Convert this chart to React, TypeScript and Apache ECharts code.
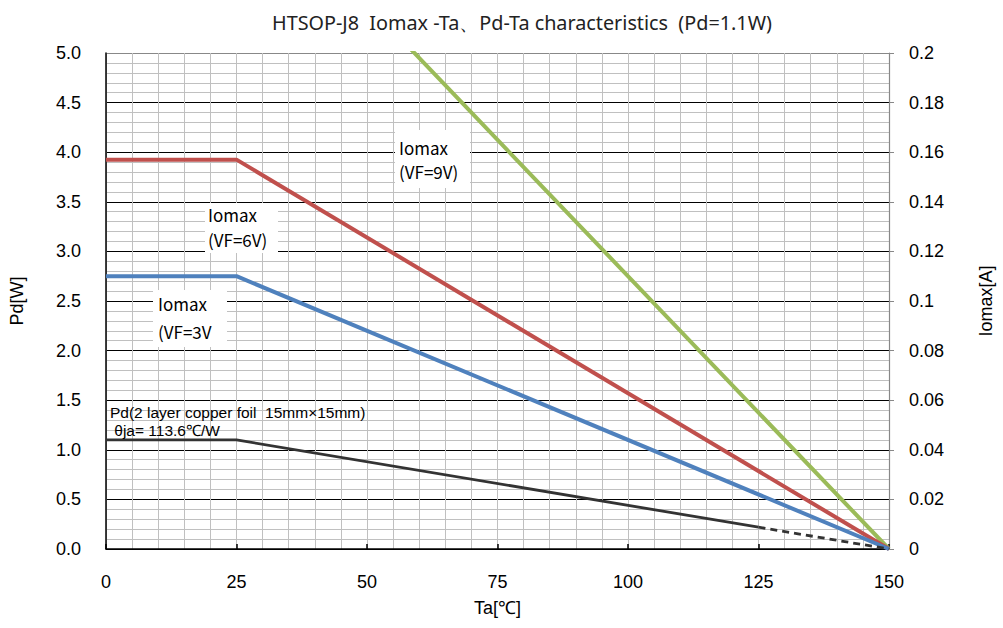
import React, { useEffect, useRef } from "react";
import * as echarts from "echarts";

const titleText = "HTSOP-J8  Iomax -Ta、Pd-Ta characteristics  (Pd=1.1W)";
const xTicks = [0, 25, 50, 75, 100, 125, 150];
const pdSolid: [number, number][] = [
  [0, 1.1],
  [25, 1.1],
  [125, 0.22],
];
const pdDashed: [number, number][] = [
  [125, 0.22],
  [150, 0],
];
const io3V: [number, number][] = [
  [0, 0.11],
  [25, 0.11],
  [150, 0],
];
const io6V: [number, number][] = [
  [0, 0.157],
  [25, 0.157],
  [150, 0],
];
const io9V: [number, number][] = [
  [0, 0.275],
  [25, 0.275],
  [150, 0],
];
const labels = {
  v9: ["Iomax", "(VF=9V)"],
  v6: ["Iomax", "(VF=6V)"],
  v3: ["Iomax", "(VF=3V"],
  pd: ["Pd(2 layer copper foil  15mm×15mm)", " θja= 113.6℃/W"],
};

const axisFont = "Liberation Sans";
const cjkFont = "Noto Sans CJK JP";

function box(
  x: number,
  y: number,
  w: number,
  h: number,
  lines: string[],
  tx: number,
  ty: number,
  lh: number
) {
  return {
    type: "group",
    x,
    y,
    z: 50,
    children: [
      {
        type: "rect",
        z: 50,
        shape: { x: 0, y: 0, width: w, height: h },
        style: { fill: "#ffffff", stroke: null },
      },
      {
        type: "text",
        z: 51,
        x: tx,
        y: ty,
        style: {
          text: lines.join("\n"),
          fontFamily: cjkFont,
          fontSize: 17,
          fill: "#000",
          lineHeight: lh,
        },
      },
    ],
  };
}

export default function App() {
  const ref = useRef<HTMLDivElement>(null);
  useEffect(() => {
    if (!ref.current) return;
    const chart = echarts.init(ref.current, undefined, { renderer: "svg" });
    const majorY = new Array(11).fill("#000");
    majorY[10] = "#888";
    chart.setOption({
      animation: false,
      backgroundColor: "#fff",
      title: {
        text: titleText,
        left: 517,
        top: 7,
        textAlign: "center",
        textStyle: { fontFamily: "Noto Sans", fontSize: 19.8, fontWeight: "normal", color: "#222" },
      },
      grid: { left: 105, right: 110, top: 53, bottom: 79, containLabel: false },
      xAxis: {
        type: "value",
        min: 0,
        max: 150,
        interval: 25,
        name: "Ta[℃]",
        nameLocation: "middle",
        nameGap: 50,
        nameTextStyle: { fontFamily: axisFont, fontSize: 18, color: "#000" },
        axisLine: { show: true, lineStyle: { color: "#000", width: 1.5 } },
        axisTick: { show: true, inside: true, length: 5, lineStyle: { color: "#000", width: 1.5 } },
        axisLabel: {
          margin: 24,
          fontFamily: axisFont,
          fontSize: 18,
          color: "#000",
          customValues: xTicks,
        },
        splitLine: { show: true, lineStyle: { color: "#c0c0c0", width: 1 } },
        minorTick: { show: false, splitNumber: 5 },
        minorSplitLine: { show: true, lineStyle: { color: "#c0c0c0", width: 1 } },
      },
      yAxis: [
        {
          type: "value",
          min: 0,
          max: 5,
          interval: 0.5,
          position: "left",
          name: "Pd[W]",
          nameLocation: "middle",
          nameRotate: 90,
          nameGap: 80,
          nameTextStyle: { fontFamily: axisFont, fontSize: 18, color: "#000" },
          axisLine: { show: true, lineStyle: { color: "#000", width: 1.5 } },
          axisTick: { show: false },
          axisLabel: {
            margin: 25,
            fontFamily: axisFont,
            fontSize: 18,
            color: "#000",
            formatter: (v: number) => v.toFixed(1),
          },
          splitLine: { show: true, lineStyle: { color: majorY, width: 1.2 } },
          minorTick: { show: false, splitNumber: 5 },
          minorSplitLine: { show: true, lineStyle: { color: "#c0c0c0", width: 1 } },
        },
        {
          type: "value",
          min: 0,
          max: 0.2,
          interval: 0.02,
          position: "right",
          name: "Iomax[A]",
          nameLocation: "middle",
          nameRotate: 90,
          nameGap: 88,
          nameTextStyle: { fontFamily: axisFont, fontSize: 18, color: "#000" },
          axisLine: { show: true, lineStyle: { color: "#888", width: 1.2 } },
          axisTick: { show: true, inside: false, length: 5, lineStyle: { color: "#888", width: 1 } },
          axisLabel: {
            margin: 20,
            fontFamily: axisFont,
            fontSize: 18,
            color: "#000",
            formatter: (v: number) => String(+v.toFixed(2)),
          },
          splitLine: { show: false },
        },
      ],
      graphic: [
        box(395, 130, 75, 58, labels.v9, 4, 5, 24),
        box(205, 203, 73, 50, labels.v6, 3, -1, 25),
        box(153, 290, 74, 57, labels.v3, 5, -1, 28),
        {
          type: "text",
          x: 110,
          y: 403,
          z: 50,
          style: {
            text: labels.pd.join("\n"),
            fontFamily: axisFont,
            fontSize: 15.5,
            fill: "#000",
            lineHeight: 18,
          },
        },
      ],
      series: [
        {
          type: "line",
          yAxisIndex: 1,
          data: io9V,
          symbol: "none",
          clip: true,
          lineStyle: { color: "#9BBB59", width: 4 },
          z: 3,
        },
        {
          type: "line",
          yAxisIndex: 1,
          data: io6V,
          symbol: "none",
          lineStyle: { color: "#C0504D", width: 4 },
          z: 3,
        },
        {
          type: "line",
          yAxisIndex: 1,
          data: io3V,
          symbol: "none",
          lineStyle: { color: "#4F81BD", width: 4 },
          z: 3,
        },
        {
          type: "line",
          yAxisIndex: 0,
          data: pdSolid,
          symbol: "none",
          lineStyle: { color: "#333", width: 2.8 },
          z: 3,
        },
        {
          type: "line",
          yAxisIndex: 0,
          data: pdDashed,
          symbol: "none",
          lineStyle: { color: "#333", width: 2.8, type: [7, 5] },
          z: 3,
        },
      ],
    });
    return () => chart.dispose();
  }, []);
  return (
    <div
      ref={ref}
      style={{ position: "absolute", left: 0, top: 0, width: 1003, height: 628, background: "#fff" }}
    />
  );
}
